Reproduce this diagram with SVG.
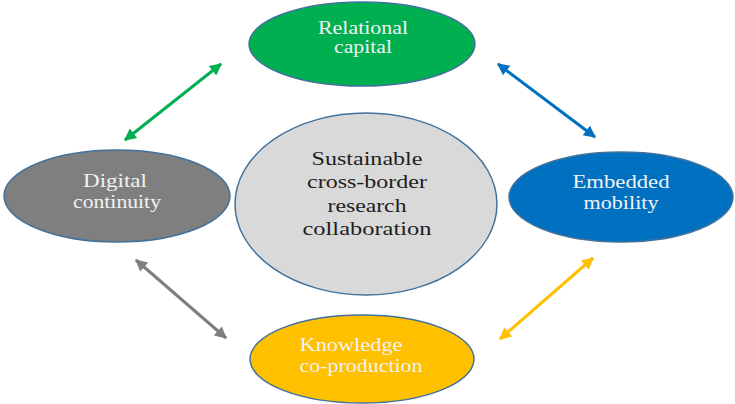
<svg xmlns="http://www.w3.org/2000/svg" width="735" height="404" viewBox="0 0 735 404">
  <style>
    .node { stroke: #41719C; stroke-width: 1.5; }
    .lbl { font-family: "Liberation Serif", "Times New Roman", serif; font-size: 18px; fill: #F2F2F2; text-anchor: middle; }
    .core { fill: #1E1E1E; }
    .link { fill: none; stroke-width: 3; }
  </style>
  <defs>
    <marker id="ah-green" viewBox="0 0 10 10" refX="9" refY="5" markerWidth="4.5" markerHeight="4" orient="auto-start-reverse" markerUnits="strokeWidth">
      <path d="M0,0 L10,5 L0,10 z" fill="#00B050"/>
    </marker>
    <marker id="ah-blue" viewBox="0 0 10 10" refX="9" refY="5" markerWidth="4.5" markerHeight="4" orient="auto-start-reverse" markerUnits="strokeWidth">
      <path d="M0,0 L10,5 L0,10 z" fill="#0070C0"/>
    </marker>
    <marker id="ah-gray" viewBox="0 0 10 10" refX="9" refY="5" markerWidth="4.5" markerHeight="4" orient="auto-start-reverse" markerUnits="strokeWidth">
      <path d="M0,0 L10,5 L0,10 z" fill="#7F7F7F"/>
    </marker>
    <marker id="ah-gold" viewBox="0 0 10 10" refX="9" refY="5" markerWidth="4.5" markerHeight="4" orient="auto-start-reverse" markerUnits="strokeWidth">
      <path d="M0,0 L10,5 L0,10 z" fill="#FFC000"/>
    </marker>
  </defs>

  <rect width="735" height="404" fill="#FFFFFF"/>

  <!-- connectors: two-headed arrows between the outer nodes -->
  <g id="connectors">
    <line class="link" x1="125" y1="140" x2="221" y2="64" stroke="#00B050" marker-start="url(#ah-green)" marker-end="url(#ah-green)"/>
    <line class="link" x1="498" y1="64" x2="595" y2="137" stroke="#0070C0" marker-start="url(#ah-blue)" marker-end="url(#ah-blue)"/>
    <line class="link" x1="136" y1="260" x2="226" y2="338" stroke="#7F7F7F" marker-start="url(#ah-gray)" marker-end="url(#ah-gray)"/>
    <line class="link" x1="593" y1="258" x2="500" y2="339" stroke="#FFC000" marker-start="url(#ah-gold)" marker-end="url(#ah-gold)"/>
  </g>

  <g id="relational-capital">
    <ellipse class="node" cx="362" cy="44" rx="113" ry="42" fill="#00B050"/>
    <text class="lbl" x="363" y="34" textLength="90" lengthAdjust="spacingAndGlyphs">Relational</text>
    <text class="lbl" x="363" y="53" textLength="58" lengthAdjust="spacingAndGlyphs">capital</text>
  </g>

  <g id="sustainable-collaboration">
    <ellipse class="node" cx="366" cy="204" rx="131" ry="91" fill="#D9D9D9"/>
    <text class="lbl core" x="367" y="165" textLength="111" lengthAdjust="spacingAndGlyphs">Sustainable</text>
    <text class="lbl core" x="367" y="188" textLength="120" lengthAdjust="spacingAndGlyphs">cross-border</text>
    <text class="lbl core" x="367" y="212" textLength="79" lengthAdjust="spacingAndGlyphs">research</text>
    <text class="lbl core" x="367" y="235" textLength="129" lengthAdjust="spacingAndGlyphs">collaboration</text>
  </g>

  <g id="digital-continuity">
    <ellipse class="node" cx="117" cy="196" rx="113" ry="46" fill="#7F7F7F"/>
    <text class="lbl" x="115" y="187" textLength="64" lengthAdjust="spacingAndGlyphs">Digital</text>
    <text class="lbl" x="117" y="208" textLength="88" lengthAdjust="spacingAndGlyphs">continuity</text>
  </g>

  <g id="embedded-mobility">
    <ellipse class="node" cx="621" cy="197" rx="112" ry="45" fill="#0070C0"/>
    <text class="lbl" x="621" y="188" textLength="97" lengthAdjust="spacingAndGlyphs">Embedded</text>
    <text class="lbl" x="621" y="209" textLength="75" lengthAdjust="spacingAndGlyphs">mobility</text>
  </g>

  <g id="knowledge-coproduction">
    <ellipse class="node" cx="362" cy="359" rx="112" ry="44" fill="#FFC000"/>
    <text class="lbl" x="351" y="351" textLength="103" lengthAdjust="spacingAndGlyphs">Knowledge</text>
    <text class="lbl" x="361" y="372" textLength="123" lengthAdjust="spacingAndGlyphs">co-production</text>
  </g>
</svg>
